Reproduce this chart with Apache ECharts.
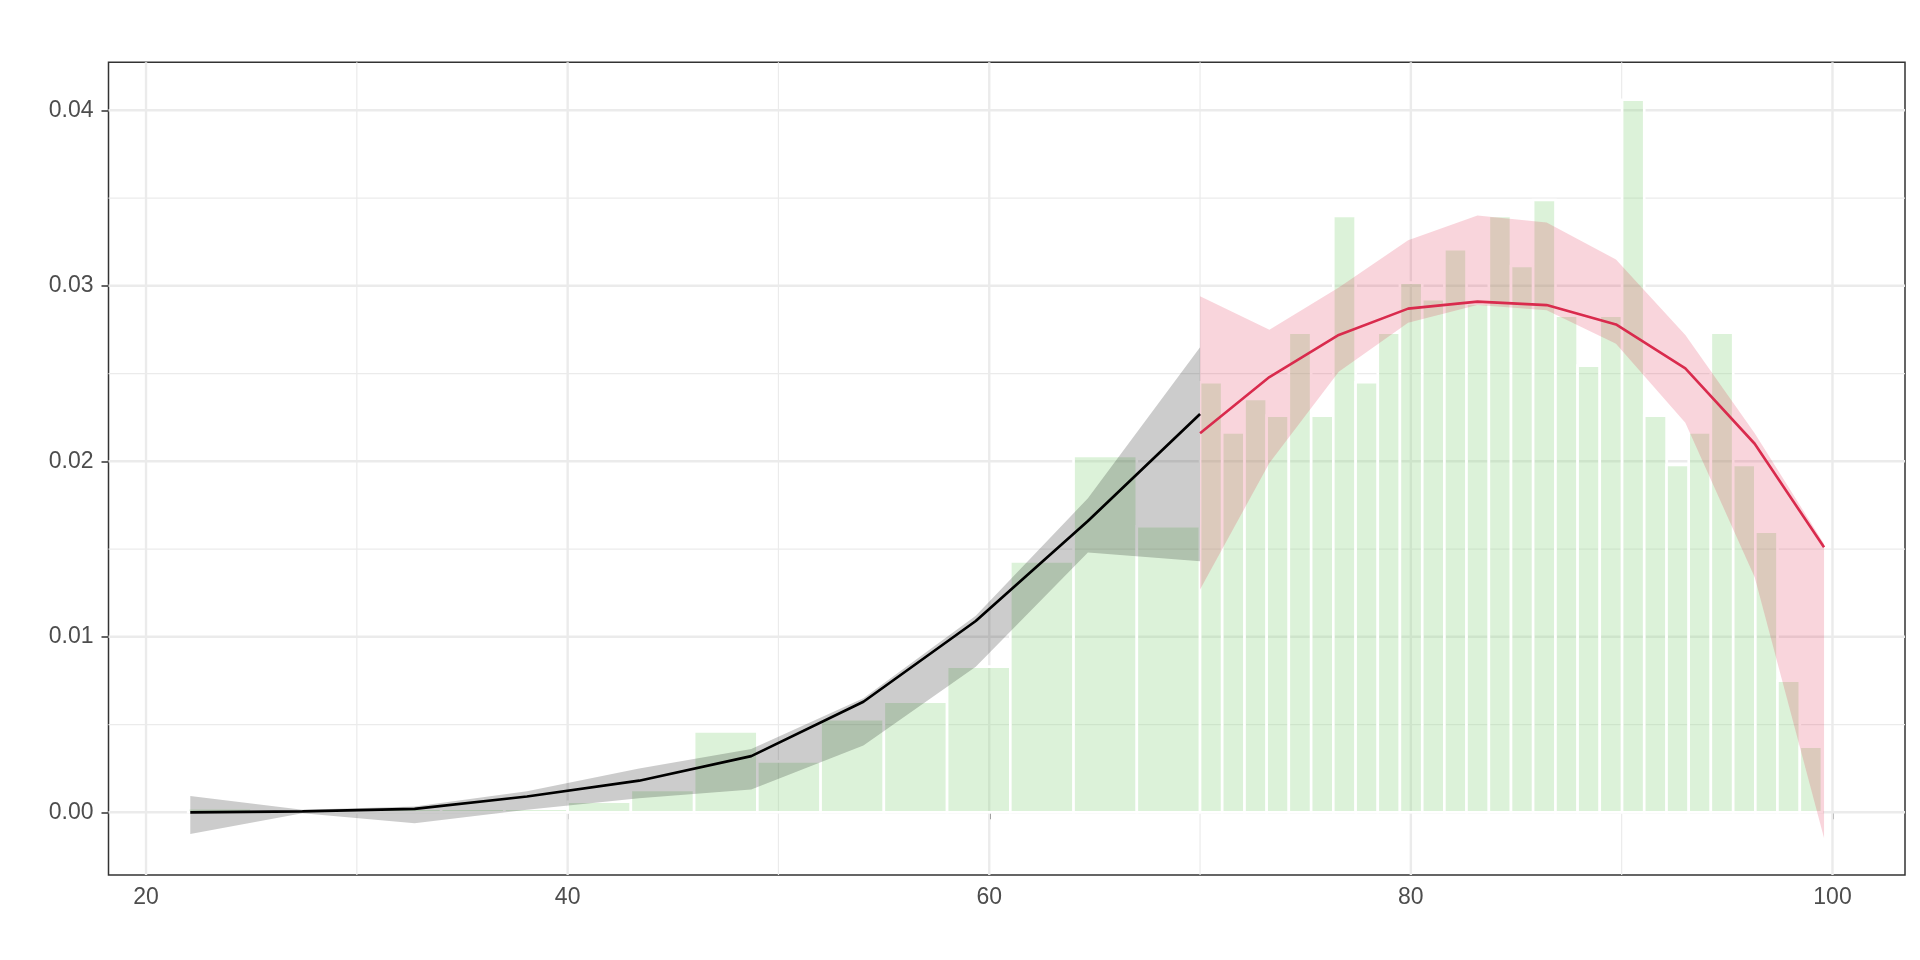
<!DOCTYPE html>
<html>
<head>
<meta charset="utf-8">
<script src="https://cdn.jsdelivr.net/npm/echarts@6/dist/echarts.min.js"></script>
<style>
  html, body { margin: 0; padding: 0; background: #fff; }
  #chart { width: 1920px; height: 960px; }
</style>
</head>
<body>
<div id="chart"></div>
<script>
// histogram: bin edges and density per bin
const binEdges = [22, 25, 28, 31, 34, 37, 40, 43, 46, 49, 52, 55, 58, 61, 64, 67,
  70.00, 71.05, 72.11, 73.16, 74.21, 75.27, 76.32, 77.38, 78.43, 79.48, 80.54, 81.59,
  82.64, 83.70, 84.75, 85.80, 86.86, 87.91, 88.96, 90.02, 91.07, 92.13, 93.18, 94.23,
  95.29, 96.34, 97.39, 98.45, 99.50];
const binDensity = [0.00023, 0, 0, 0.0002, 0.0002, 0.0002, 0.0006, 0.00127, 0.0046, 0.0029,
  0.0053, 0.0063, 0.0083, 0.0143, 0.0203, 0.0163,
  0.0245, 0.02165, 0.02355, 0.0226, 0.02733, 0.0226, 0.03398, 0.0245, 0.02733, 0.03018,
  0.02923, 0.03208, 0.0290, 0.03398, 0.03113, 0.03489, 0.0283, 0.02545, 0.0283, 0.0406,
  0.0226, 0.01979, 0.02165, 0.02733, 0.01979, 0.01599, 0.0075, 0.00374];

// black fit (left part) with band
const lowX = [22.1, 27.42, 32.74, 38.07, 43.39, 48.71, 54.03, 59.36, 64.68, 70.0];
const lowFit = [0, 0.00005, 0.0002, 0.0009, 0.0018, 0.0032, 0.0063, 0.0109, 0.0166, 0.0227];
const lowLower = [-0.00124, -0.00005, -0.00063, 0.00015, 0.0008, 0.0013, 0.0038, 0.0083, 0.0148, 0.0143];
const lowUpper = [0.00093, 0.00015, 0.00033, 0.0012, 0.0025, 0.0036, 0.0065, 0.0112, 0.0179, 0.0265];

// red fit (right part) with band
const highX = [70, 73.29, 76.58, 79.87, 83.16, 86.44, 89.73, 93.02, 96.31, 99.6];
const highFit = [0.0216, 0.0248, 0.0272, 0.0287, 0.0291, 0.0289, 0.0278, 0.0253, 0.0210, 0.0151];
const highLower = [0.0127, 0.0199, 0.0251, 0.0279, 0.0289, 0.0286, 0.0267, 0.0222, 0.0134, -0.00147];
const highUpper = [0.0294, 0.0275, 0.0299, 0.0326, 0.0340, 0.0336, 0.0315, 0.0272, 0.0216, 0.0153];

// ticks
const xMajor = [20, 40, 60, 80, 100];
const xMinor = [30, 50, 70, 90];
const yMajor = [0, 0.01, 0.02, 0.03, 0.04];
const yMinor = [0.005, 0.015, 0.025, 0.035];

const textStyle = { color: '#4D4D4D', fontSize: 23, fontFamily: 'Liberation Sans, Arial, sans-serif' };
const tickStyle = { color: '#333333', width: 1.5 };

const gridDefs = [].concat(
  xMinor.map(v => ({ dir: 'x', v: v, major: false })),
  yMinor.map(v => ({ dir: 'y', v: v, major: false })),
  xMajor.map(v => ({ dir: 'x', v: v, major: true })),
  yMajor.map(v => ({ dir: 'y', v: v, major: true }))
);

function ribbon(name, xs, lo, hi, color) {
  return {
    type: 'custom',
    name: name,
    z: 3,
    silent: true,
    data: [[xs[0], lo[0]]],
    renderItem: function (params, api) {
      var pts = [];
      for (var i = 0; i < xs.length; i++) pts.push(api.coord([xs[i], hi[i]]));
      for (var j = xs.length - 1; j >= 0; j--) pts.push(api.coord([xs[j], lo[j]]));
      return { type: 'polygon', shape: { points: pts }, style: { fill: color } };
    }
  };
}

var myChart = echarts.init(document.getElementById('chart'));
myChart.setOption({
  animation: false,
  grid: {
    left: 108.5, right: 15, top: 62.3, bottom: 85,
    show: true, borderColor: '#333333', borderWidth: 1.5, backgroundColor: 'transparent'
  },
  xAxis: {
    type: 'value',
    min: 18.22,
    max: 103.44,
    splitLine: { show: false },
    axisLine: { show: false },
    axisTick: { show: true, customValues: xMajor, length: 7, lineStyle: tickStyle },
    axisLabel: Object.assign({ customValues: xMajor, margin: 11 }, textStyle)
  },
  yAxis: {
    type: 'value',
    min: -0.003573,
    max: 0.042735,
    splitLine: { show: false },
    axisLine: { show: false },
    axisTick: { show: true, customValues: yMajor, length: 7, lineStyle: tickStyle },
    axisLabel: Object.assign({
      customValues: yMajor, margin: 15,
      formatter: function (v) { return v.toFixed(2); }
    }, textStyle)
  },
  series: [
    {
      // panel grid lines
      type: 'custom',
      z: 1,
      silent: true,
      data: gridDefs.map(g => g.dir === 'x' ? [g.v, 0] : [50, g.v]),
      renderItem: function (params, api) {
        var g = gridDefs[params.dataIndex];
        var cs = params.coordSys;
        var p = api.coord([api.value(0), api.value(1)]);
        var shape = g.dir === 'x'
          ? { x1: p[0], y1: cs.y, x2: p[0], y2: cs.y + cs.height }
          : { x1: cs.x, y1: p[1], x2: cs.x + cs.width, y2: p[1] };
        return { type: 'line', shape: shape, style: { stroke: '#EBEBEB', lineWidth: g.major ? 2.4 : 1.2 } };
      }
    },
    {
      // histogram
      type: 'custom',
      z: 2,
      silent: true,
      data: binDensity.map((d, i) => [binEdges[i], binEdges[i + 1], d]),
      encode: { x: [0, 1], y: 2 },
      renderItem: function (params, api) {
        var top = api.coord([api.value(0), api.value(2)]);
        var base = api.coord([api.value(1), 0]);
        return {
          type: 'rect',
          shape: { x: top[0], y: top[1], width: base[0] - top[0], height: base[1] - top[1] },
          style: { fill: 'rgba(138,212,128,0.3)', stroke: '#ffffff', lineWidth: 2.6 }
        };
      }
    },
    ribbon('lowBand', lowX, lowLower, lowUpper, 'rgba(0,0,0,0.2)'),
    ribbon('highBand', highX, highLower, highUpper, 'rgba(220,20,60,0.18)'),
    {
      type: 'line',
      z: 4,
      silent: true,
      symbol: 'none',
      data: lowX.map((x, i) => [x, lowFit[i]]),
      lineStyle: { color: '#000000', width: 2.7 }
    },
    {
      type: 'line',
      z: 4,
      silent: true,
      symbol: 'none',
      data: highX.map((x, i) => [x, highFit[i]]),
      lineStyle: { color: '#D92B4D', width: 2.6 }
    }
  ]
});
</script>
</body>
</html>
